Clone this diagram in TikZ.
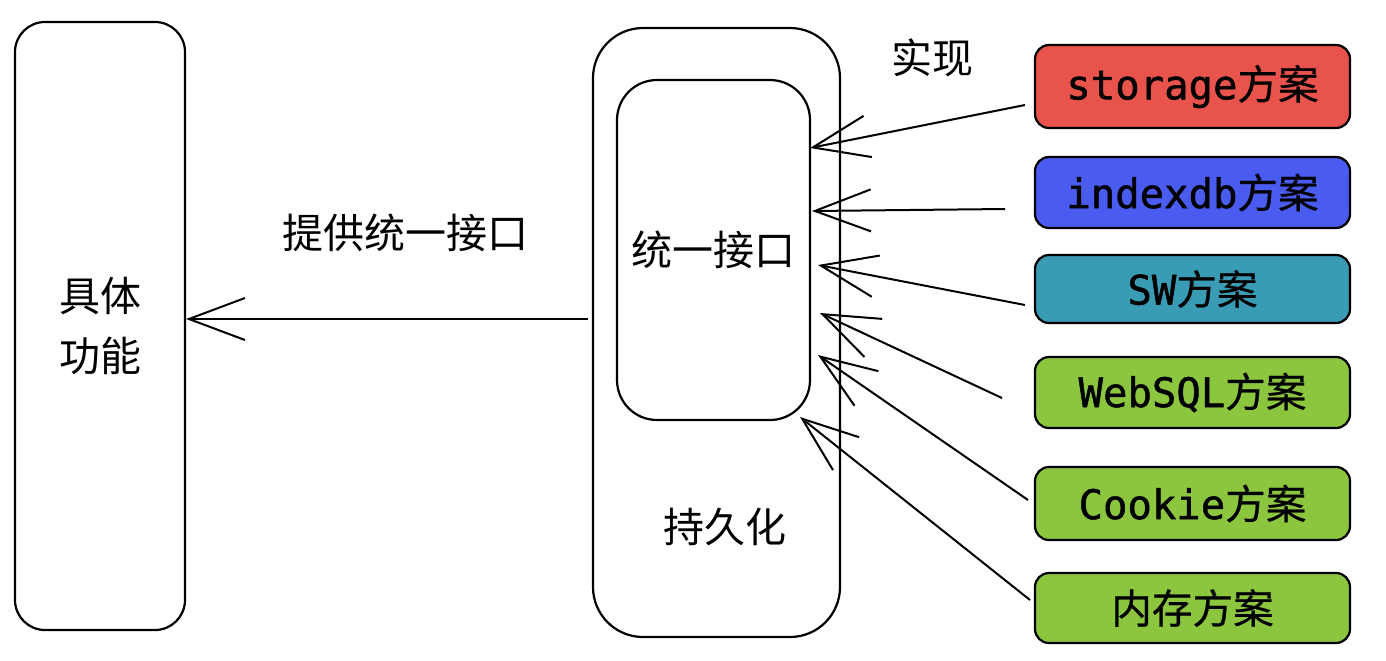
\documentclass[tikz,border=0pt]{standalone}
\usepackage{fontspec}
\setmainfont{Noto Sans CJK SC}
\newfontfamily\cjk{Noto Sans CJK SC}
\newfontfamily\mono[FakeBold=1.2]{DejaVu Sans Mono}
\newfontfamily\cjkp[FakeBold=0.6]{Noto Sans CJK SC}
\usetikzlibrary{arrows.meta}
\definecolor{cred}{HTML}{E8534B}
\definecolor{cblue}{HTML}{4A5CF0}
\definecolor{cteal}{HTML}{3A9BB5}
\definecolor{cgreen}{HTML}{8CC63F}
\tikzset{
  sk/.style={draw=black, line width=1.1pt},
  bigbox/.style={sk, rounded corners=15pt, inner sep=0pt},
  plan/.style={sk, rounded corners=7pt, minimum width=157.5pt, inner sep=0pt, font=\mono\fontsize{20.3}{24}\selectfont},
  lbl/.style={font=\cjk\fontsize{20.5}{30}\selectfont, inner sep=0pt},
  arr/.style={line width=1pt, -{Straight Barb[length=28pt, width=21pt, line width=1pt]}},
}
\begin{document}
\begin{tikzpicture}[x=0.5pt,y=-0.5pt]
\useasboundingbox (0,0) rectangle (1386,660);
\fill[white] (0,0) rectangle (1386,660);
% left box
\node[bigbox, minimum width=85pt, minimum height=304pt, align=center, font=\cjk\fontsize{20.5}{30}\selectfont] (left) at (100,326) {具体\\功能};
% persistence
\node[bigbox, rounded corners=25pt, minimum width=123.5pt, minimum height=304.5pt] (outer) at (716.5,332.5) {};
\node[bigbox, rounded corners=20pt, minimum width=96.5pt, minimum height=170pt, font=\cjk\fontsize{20.5}{30}\selectfont] (inner) at (713.5,250) {统一接口};
\node[lbl] (persist) at (725,527) {持久化};
\node[lbl] (impl) at (932,58) {实现};
\node[lbl] (provide) at (405,233) {提供统一接口};
% plans
\node[plan, fill=cred, minimum height=41.5pt] (p1) at (1192.5,86.5) {storage{\cjkp 方案}};
\node[plan, fill=cblue, minimum height=35.5pt] (p2) at (1192.5,192.5) {indexdb{\cjkp 方案}};
\node[plan, fill=cteal, minimum height=34pt] (p3) at (1192.5,289) {SW{\cjkp 方案}};
\node[plan, fill=cgreen, minimum height=35.5pt] (p4) at (1192.5,392.5) {WebSQL{\cjkp 方案}};
\node[plan, fill=cgreen, minimum height=36.5pt] (p5) at (1192.5,503.5) {Cookie{\cjkp 方案}};
\node[plan, fill=cgreen, minimum height=35pt] (p6) at (1192.5,608) {{\cjkp 内存方案}};
% connector ends
\coordinate (s1) at (1025,105); \coordinate (t1) at (810,148);
\coordinate (s2) at (1005,209); \coordinate (t2) at (812,211);
\coordinate (s3) at (1025,305); \coordinate (t3) at (818,265);
\coordinate (s4) at (1002,398); \coordinate (t4) at (820,313);
\coordinate (s5) at (1028,500); \coordinate (t5) at (818,355);
\coordinate (s6) at (1030,600); \coordinate (t6) at (800,417);
\foreach \i in {1,...,6} { \draw[arr] (s\i) -- (t\i); }
\coordinate (m0) at (588,319);
\draw[arr] (m0) -- (left.east |- m0);
\end{tikzpicture}
\end{document}
